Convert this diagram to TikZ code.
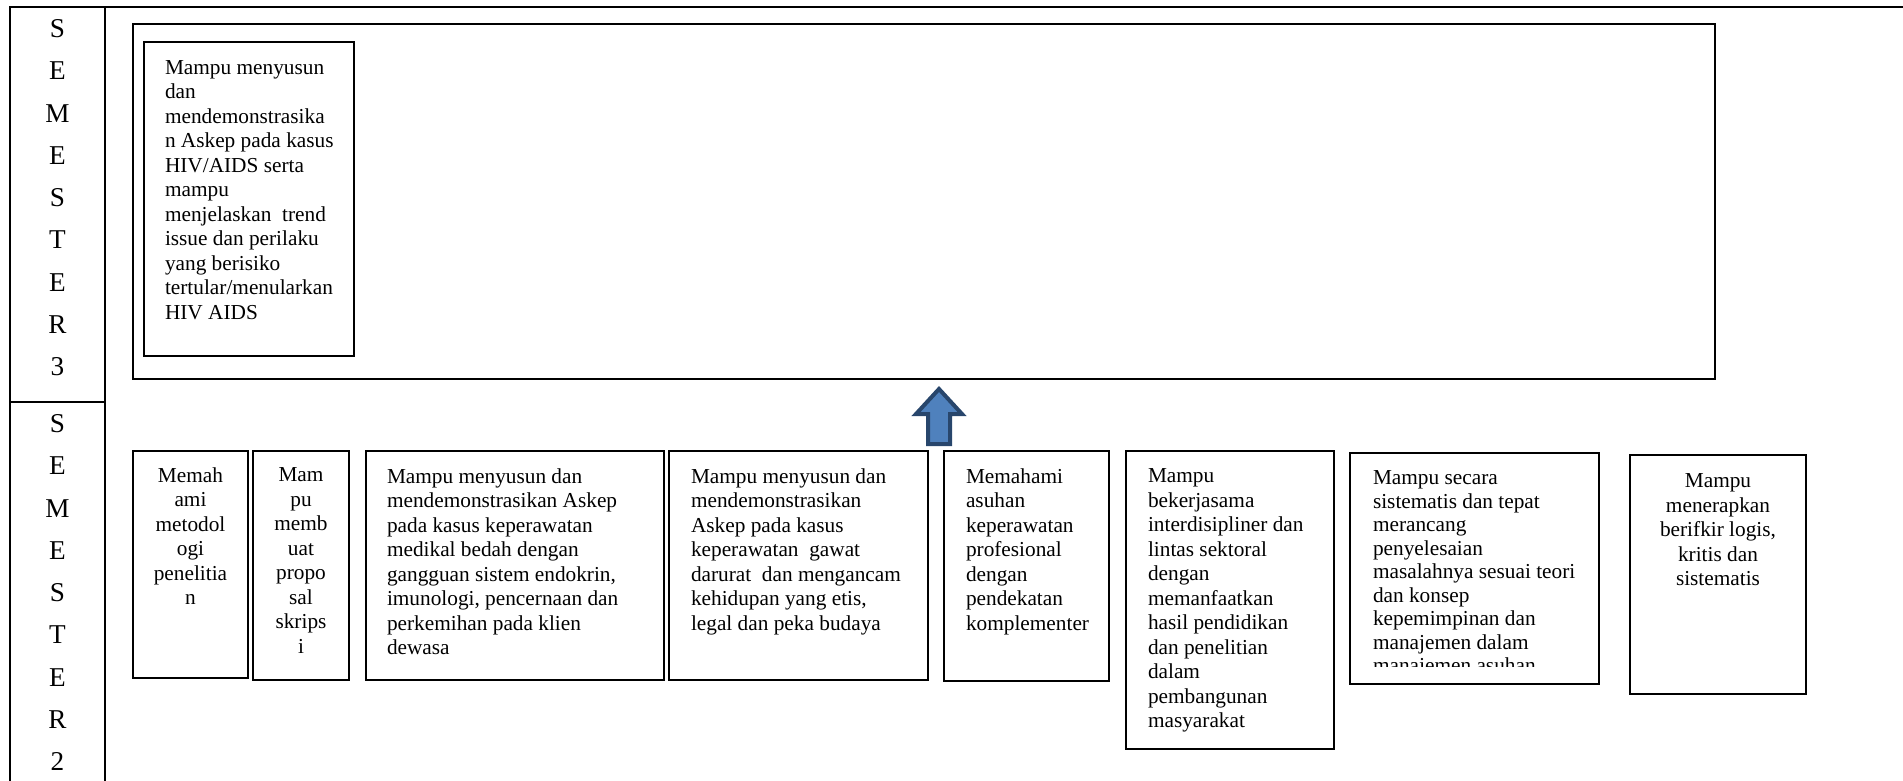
\documentclass[tikz,border=0pt]{standalone}
\usepackage{fontspec}
\setmainfont{Liberation Serif}
\usetikzlibrary{positioning}
\definecolor{panahisi}{RGB}{79,129,189}
\definecolor{panahgaris}{RGB}{40,70,108}

\tikzset{every picture/.style={line width=1pt}}
\tikzset{
  teks/.style={font=\fontsize{10.65}{12.25}\selectfont, inner sep=0pt, align=left, anchor=north west},
  teksc/.style={teks, align=center, anchor=north},
  huruf/.style={font=\fontsize{13.6}{21.125}\selectfont, inner sep=0pt, align=center, anchor=north},
}

\begin{document}
\begin{tikzpicture}[x=0.5pt,y=0.5pt,yscale=-1,xscale=1]
				\useasboundingbox (0,0) rectangle (1903,781);
				%Table lines
				\draw (10,781) -- (10,7) -- (1903,7);
				\draw (105,7) -- (105,781);
				\draw (10,402) -- (105,402);
				
				% Text Node
				\node [huruf] (sem3) at (57.5,18.6) {S\\E\\M\\E\\S\\T\\E\\R\\3};
				% Text Node
				\node [huruf] (sem2) at (57.5,413.6) {S\\E\\M\\E\\S\\T\\E\\R\\2};
				
				%Shape: Rectangle
				\draw (133,24) rectangle (1715,379);
				%Shape: Rectangle
				\draw (144,42) rectangle (354,356);
				% Text Node
				\node [teks] (hiv) at (164,59.5) {Mampu menyusun\\dan\\mendemonstrasika\\n Askep pada kasus\\HIV/AIDS serta\\mampu\\menjelaskan\ \ trend\\issue dan perilaku\\yang berisiko\\tertular/menularkan\\HIV AIDS};
				
				%Up Arrow
				\draw [draw=panahgaris, fill=panahisi, line width=2pt] (939,389) -- (962,414) -- (950,414) -- (950,444) -- (928,444) -- (928,414) -- (916,414) -- cycle;
				
				%Shape: Rectangle
				\draw (133,451) rectangle (248,678);
				% Text Node
				\node [teksc] (metodologi) at (190.5,466.5) {Memah\\ami\\metodol\\ogi\\penelitia\\n};
				%Shape: Rectangle
				\draw (253,451) rectangle (349,680);
				% Text Node
				\node [teksc] (proposal) at (301,466.9) {Mam\\pu\\memb\\uat\\propo\\sal\\skrips\\i};
				%Shape: Rectangle
				\draw (366,451) rectangle (664,680);
				% Text Node
				\node [teks] (kmb) at (386,467.5) {Mampu menyusun dan\\mendemonstrasikan Askep\\pada kasus keperawatan\\medikal bedah dengan\\gangguan sistem endokrin,\\imunologi, pencernaan dan\\perkemihan pada klien\\dewasa};
				%Shape: Rectangle
				\draw (669,451) rectangle (928,680);
				% Text Node
				\node [teks] (gadar) at (690,467.5) {Mampu menyusun dan\\mendemonstrasikan\\Askep pada kasus\\keperawatan\ \ gawat\\darurat\ \ dan mengancam\\kehidupan yang etis,\\legal dan peka budaya};
				%Shape: Rectangle
				\draw (944,451) rectangle (1109,681);
				% Text Node
				\node [teks] (komplementer) at (965,467.5) {Memahami\\asuhan\\keperawatan\\profesional\\dengan\\pendekatan\\komplementer};
				%Shape: Rectangle
				\draw (1126,451) rectangle (1334,749);
				% Text Node
				\node [teks] (lintas) at (1147,467.9) {Mampu\\bekerjasama\\interdisipliner dan\\lintas sektoral\\dengan\\memanfaatkan\\hasil pendidikan\\dan penelitian\\dalam\\pembangunan\\masyarakat};
				%Shape: Rectangle
				\draw (1350,453) rectangle (1599,684);
				% Text Node (cut off at the bottom)
				\begin{scope}
					\clip (1350,453) rectangle (1599,666);
					\node [teks, font=\fontsize{10.65}{11.75}\selectfont] (manajemen) at (1372,469.9) {Mampu secara\\sistematis dan tepat\\merancang\\penyelesaian\\masalahnya sesuai teori\\dan konsep\\kepemimpinan dan\\manajemen dalam\\manajemen asuhan};
				\end{scope}
				%Shape: Rectangle
				\draw (1630,455) rectangle (1806,694);
				% Text Node
				\node [teksc] (logis) at (1718,472.9) {Mampu\\menerapkan\\berifkir logis,\\kritis dan\\sistematis};
\end{tikzpicture}
\end{document}
